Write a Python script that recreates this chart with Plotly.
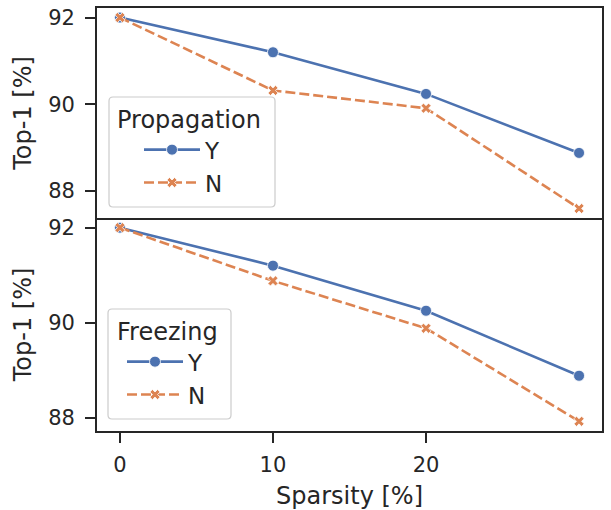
import plotly.graph_objects as go
from plotly.subplots import make_subplots

sparsity = [0, 10, 20, 30]
x_ticks = [0, 10, 20]
prop_Y = [92.0, 91.2, 90.24, 88.88]
prop_N = [92.0, 90.32, 89.91, 87.60]
freeze_Y = [92.0, 91.2, 90.25, 88.88]
freeze_N = [92.0, 90.88, 89.88, 87.92]
y_ticks = [88, 90, 92]

BLUE = "#4C72B0"
ORANGE = "#DD8452"
TXT = "#262626"
FONT = "DejaVu Sans"

fig = make_subplots(rows=2, cols=1, shared_xaxes=True, vertical_spacing=0)

def add_pair(row, yv, nv, legend):
    fig.add_trace(go.Scatter(
        x=sparsity, y=yv, name="Y", mode="lines+markers", legend=legend,
        line=dict(color=BLUE, width=2.6),
        marker=dict(symbol="circle", size=11, color=BLUE, line=dict(color="white", width=0.8)),
    ), row=row, col=1)
    fig.add_trace(go.Scatter(
        x=sparsity, y=nv, name="N", mode="lines+markers", legend=legend,
        line=dict(color=ORANGE, width=2.6, dash="10px,4px"),
        marker=dict(symbol="x", size=9, color=ORANGE, line=dict(color="white", width=0.8)),
    ), row=row, col=1)

add_pair(1, prop_Y, prop_N, "legend")
add_pair(2, freeze_Y, freeze_N, "legend2")

def yr(a, b):
    lo = min(a + b); hi = max(a + b)
    m = (hi - lo) * 0.05
    return [lo - m, hi + m]

W = 611.0
H = 510.0
ML, MT = 97, 8
MR = W - 602
MB = H - 431
PH = H - MT - MB
PW = W - ML - MR
split = (431 - 218) / PH

axis_common = dict(showline=True, linecolor=TXT, linewidth=1.8,
                   showgrid=False, zeroline=False, automargin=False,
                   tickfont=dict(family=FONT, size=21, color=TXT))

fig.update_xaxes(**axis_common, range=[-1.5, 31.5], tickvals=x_ticks, domain=[0, 1])
fig.update_xaxes(ticks="", showticklabels=False, mirror=True, row=1, col=1)
fig.update_xaxes(ticks="outside", ticklen=10, tickwidth=1.8, tickcolor=TXT,
                 ticklabelstandoff=4, mirror=False,
                 title=dict(text="Sparsity [%]", font=dict(family=FONT, size=24, color=TXT), standoff=12),
                 row=2, col=1)

fig.update_yaxes(**axis_common, mirror=True, tickvals=y_ticks, ticks="outside", ticklen=10,
                 tickwidth=1.8, tickcolor=TXT, ticklabelstandoff=6,
                 title=dict(text="Top-1 [%]", font=dict(family=FONT, size=24, color=TXT), standoff=10))
fig.update_yaxes(range=yr(prop_Y, prop_N), domain=[split, 1], row=1, col=1)
fig.update_yaxes(range=yr(freeze_Y, freeze_N), domain=[0, split], row=2, col=1)

def lx(px):
    return (px - ML) / PW

def ly(py):
    return (H - MB - py) / PH

def rounded_box(x0, y0, x1, y1, r=4):
    X = lambda v: lx(v)
    Y = lambda v: ly(v)
    return (f"M {X(x0 + r)},{Y(y0)} L {X(x1 - r)},{Y(y0)} Q {X(x1)},{Y(y0)} {X(x1)},{Y(y0 + r)} "
            f"L {X(x1)},{Y(y1 - r)} Q {X(x1)},{Y(y1)} {X(x1 - r)},{Y(y1)} "
            f"L {X(x0 + r)},{Y(y1)} Q {X(x0)},{Y(y1)} {X(x0)},{Y(y1 - r)} "
            f"L {X(x0)},{Y(y0 + r)} Q {X(x0)},{Y(y0)} {X(x0 + r)},{Y(y0)} Z")

for box in [(109, 97, 275, 207), (108, 309, 231, 419)]:
    fig.add_shape(type="path", path=rounded_box(*box), xref="paper", yref="paper",
                  fillcolor="rgba(255,255,255,0.8)", line=dict(color="#cccccc", width=1.2),
                  layer="above")

leg_common = dict(
    bgcolor="rgba(0,0,0,0)", borderwidth=0,
    font=dict(family=FONT, size=23, color=TXT),
    xanchor="left", yanchor="top", tracegroupgap=0, itemwidth=56,
)
fig.update_layout(
    width=W, height=H,
    margin=dict(l=ML, r=MR, t=MT, b=MB, autoexpand=False),
    paper_bgcolor="white", plot_bgcolor="white",
    font=dict(family=FONT, color=TXT),
    legend=dict(**leg_common, x=lx(115), y=ly(97), indentation=24,
                title=dict(text="Propagation", side="top", font=dict(family=FONT, size=24, color=TXT))),
    legend2=dict(**leg_common, x=lx(115), y=ly(309), indentation=7,
                 title=dict(text="Freezing", side="top", font=dict(family=FONT, size=24, color=TXT))),
)

fig.write_html("out.html", config={"displayModeBar": False},
               post_script="document.body.style.margin='0';")
